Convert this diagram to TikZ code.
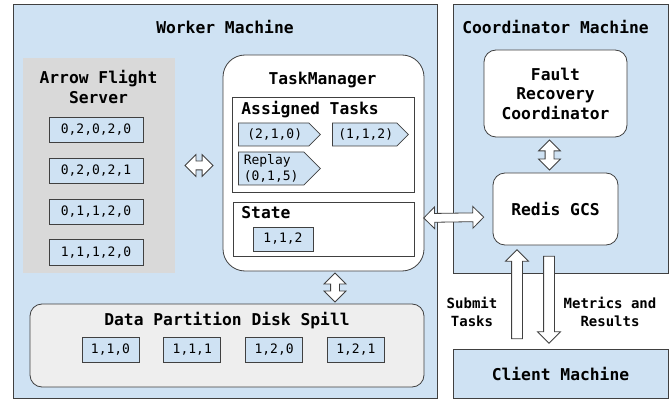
\documentclass[tikz,border=0pt]{standalone}
\usepackage{fontspec}
\setmonofont{DejaVu Sans Mono}
\usetikzlibrary{shapes.arrows,shapes.symbols,calc,positioning}

\definecolor{nodeblue}{HTML}{CFE2F3}
\definecolor{servergray}{HTML}{D9D9D9}
\definecolor{spillgray}{HTML}{EEEEEE}
\definecolor{edgegray}{HTML}{404040}

\newcommand{\bigfont}{\ttfamily\bfseries\fontsize{16.3}{19.5}\selectfont}
\newcommand{\smallfont}{\ttfamily\fontsize{13}{16}\selectfont}

\begin{document}
\begin{tikzpicture}[x=1pt,y=-1pt,line width=0.8pt,
    machine/.style={draw=edgegray,fill=nodeblue},
    service/.style={draw=edgegray,fill=white,rounded corners=12pt,
                    font=\bigfont,align=center},
    panel/.style={draw=edgegray,fill=white},
    title/.style={font=\bigfont,align=center,inner sep=0pt},
    part/.style={draw=edgegray,fill=nodeblue,font=\smallfont,
                 minimum height=25pt,inner sep=0pt},
    task/.style={signal,signal to=east,draw=edgegray,fill=nodeblue,anchor=west,
                 font=\smallfont,inner sep=2pt,minimum width=82pt},
    link/.style={draw=none},
    both/.style={double arrow,sloped,draw=edgegray,fill=white,
                 inner xsep=0pt,inner ysep=4pt,minimum width=0pt,
                 double arrow head extend=6.5pt},
    one/.style={single arrow,sloped,draw=edgegray,fill=white,
                inner xsep=0pt,inner ysep=5pt,minimum width=0pt,
                single arrow head extend=6pt}]

  \useasboundingbox (0,0) rectangle (670,401);

  % machines
  \node[machine,minimum width=424pt,minimum height=394pt] (worker) at (225,201) {};
  \node[machine,minimum width=215pt,minimum height=269pt] (coord) at (560.5,138.5) {};
  \node[machine,minimum width=215pt,minimum height=49pt,font=\bigfont]
       (client) at (560.5,373.5) {Client Machine};
  \node[title] at (225,27) {Worker Machine};
  \node[title] at (555.5,27) {Coordinator Machine};

  % flight server
  \node[fill=servergray,minimum width=152pt,minimum height=215pt] (afs) at (99,165.5) {};
  \node[title] at (98.5,87) {Arrow Flight\\Server};
  \node[part,minimum width=94pt]                   (p1) at (96,129.5) {0,2,0,2,0};
  \node[part,minimum width=94pt,below=15.5pt of p1] (p2) {0,2,0,2,1};
  \node[part,minimum width=94pt,below=15pt of p2]   (p3) {0,1,1,2,0};
  \node[part,minimum width=94pt,below=15pt of p3]   (p4) {1,1,1,2,0};

  % task manager
  \node[panel,rounded corners=22pt,minimum width=201pt,minimum height=216pt]
       (tm) at (323.5,163) {};
  \node[title] at (322.5,80) {TaskManager};
  \node[panel,minimum width=182pt,minimum height=95pt] (assigned) at (323,144.5) {};
  \node[title,anchor=west] at (241,110) {Assigned Tasks};
  \node[task,minimum height=23pt]            (t1) at (238,134.5) {\,(2,1,0)};
  \node[task,minimum width=76pt,minimum height=23pt] (t2) at (332,134.5) {\,(1,1,2)};
  \node[task,minimum height=33pt,align=left] (t3) at (238,168.5) {Replay\\(0,1,5)};
  \node[panel,minimum width=181pt,minimum height=54pt] (state) at (323.5,229) {};
  \node[title,anchor=west] at (241,213) {State};
  \node[part,minimum width=60pt,minimum height=24pt] (s1) at (283,239) {1,1,2};

  % disk spill
  \node[draw=edgegray,fill=spillgray,rounded corners=12pt,minimum width=394pt,
        minimum height=83pt] (spill) at (227,345.5) {};
  \node[title] at (227,321) {Data Partition Disk Spill};
  \node[part,minimum width=57pt]                 (d1) at (110.5,349.5) {1,1,0};
  \node[part,minimum width=57pt,right=24pt of d1] (d2) {1,1,1};
  \node[part,minimum width=57pt,right=24pt of d2] (d3) {1,2,0};
  \node[part,minimum width=57pt,right=24pt of d3] (d4) {1,2,1};

  % coordinator services
  \node[service,minimum width=143pt,minimum height=87pt] (frc) at (555.5,93.5)
       {Fault\\Recovery\\Coordinator};
  \node[service,minimum width=125pt,minimum height=72pt] (redis) at (555.5,209)
       {Redis GCS};

  \node[font=\ttfamily\bfseries\fontsize{14}{18}\selectfont,align=center]
       (sublbl) at (472,312) {Submit\\Tasks};
  \node[font=\ttfamily\bfseries\fontsize{14}{18}\selectfont,align=center]
       (metlbl) at (610,312) {Metrics and\\Results};

  % links
  \coordinate (up)    at (517,0);
  \coordinate (down)  at (549,0);
  \coordinate (frclow) at ($(frc.south)+(-6,0)$);
  \coordinate (tmlow) at ($(tm.south)+(11.5,0)$);

  \path (afs.east)  edge[link] node[both,minimum height=28pt] {} (afs.east -| tm.west)
        (frclow)    edge[link] node[both,minimum height=30pt] {} (frclow |- redis.north)
        (tmlow)     edge[link] node[both,minimum height=29pt] {} (tmlow |- spill.north)
        ($(tm.east)+(0,55)$) edge[link] node[both,pos=0.43,minimum height=60pt] {}
                    ($(redis.west)+(0,8)$)
        (client.north -| up)  edge[link] node[one,minimum height=89pt] {} (redis.south -| up)
        (redis.south -| down) edge[link] node[one,minimum height=87pt] {} (client.north -| down);
\end{tikzpicture}
\end{document}
